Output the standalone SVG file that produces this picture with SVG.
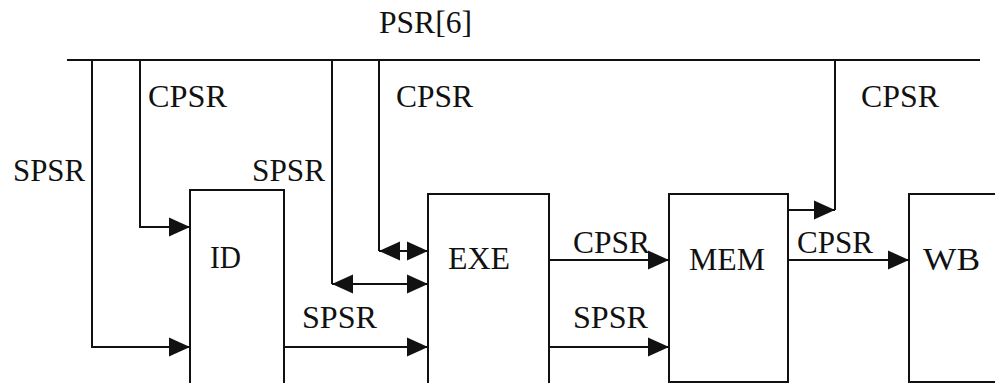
<svg xmlns="http://www.w3.org/2000/svg" width="995" height="383" viewBox="0 0 995 383">
<style>
  .ln { fill: none; stroke: #111; stroke-width: 2; }
  .box { fill: #fff; stroke: #111; stroke-width: 2; }
  .t { font-family: 'Times New Roman', 'Liberation Serif', 'DejaVu Serif', serif; font-size: 32px; fill: #111; }
  .arr { marker-end: url(#ah); }
  .dbl { marker-start: url(#ah); marker-end: url(#ah); }
</style>
<defs>
  <marker id="ah" markerUnits="userSpaceOnUse" markerWidth="22" markerHeight="20" viewBox="0 0 22 20" refX="21" refY="10" orient="auto-start-reverse">
    <path d="M0,0.5 L21,10 L0,19.5 Z" fill="#111"/>
  </marker>
</defs>
<rect width="995" height="383" fill="#fff"/>

<g id="bus">
  <path class="ln" d="M67,60 H980"/>
  <text class="t" x="379" y="33" textLength="93" lengthAdjust="spacingAndGlyphs">PSR[6]</text>
</g>

<g id="ID">
  <path class="box" d="M190,383 V190 H284 V383"/>
  <text class="t" x="210" y="268" textLength="31" lengthAdjust="spacingAndGlyphs">ID</text>
</g>
<g id="EXE">
  <path class="box" d="M428,383 V194 H549 V383"/>
  <text class="t" x="448" y="269" textLength="62" lengthAdjust="spacingAndGlyphs">EXE</text>
</g>
<g id="MEM">
  <rect class="box" x="669" y="194" width="119" height="188"/>
  <text class="t" x="689" y="270" textLength="76" lengthAdjust="spacingAndGlyphs">MEM</text>
</g>
<g id="WB">
  <path class="box" d="M996,194 H909 V382 H996"/>
  <text class="t" x="923" y="270" textLength="57" lengthAdjust="spacingAndGlyphs">WB</text>
</g>

<g id="connectors">
  <path class="ln arr" d="M92,60 V347 H190"/>
  <path class="ln arr" d="M140,60 V227 H190"/>
  <path class="ln" d="M332,60 V284"/>
  <path class="ln dbl" d="M332,284 H428"/>
  <path class="ln" d="M379,60 V251"/>
  <path class="ln dbl" d="M379,251 H428"/>
  <path class="ln arr" d="M284,347 H428"/>
  <path class="ln arr" d="M549,260 H669"/>
  <path class="ln arr" d="M549,347 H669"/>
  <path class="ln arr" d="M788,260 H909"/>
  <path class="ln" d="M835,60 V210"/>
  <path class="ln arr" d="M788,210 H835"/>

  <text class="t" x="13" y="181" textLength="72" lengthAdjust="spacingAndGlyphs">SPSR</text>
  <text class="t" x="148" y="107" textLength="79" lengthAdjust="spacingAndGlyphs">CPSR</text>
  <text class="t" x="252" y="181" textLength="73" lengthAdjust="spacingAndGlyphs">SPSR</text>
  <text class="t" x="396" y="107" textLength="77" lengthAdjust="spacingAndGlyphs">CPSR</text>
  <text class="t" x="861" y="107" textLength="78" lengthAdjust="spacingAndGlyphs">CPSR</text>
  <text class="t" x="302" y="328" textLength="75" lengthAdjust="spacingAndGlyphs">SPSR</text>
  <text class="t" x="573" y="253" textLength="77" lengthAdjust="spacingAndGlyphs">CPSR</text>
  <text class="t" x="573" y="328" textLength="75" lengthAdjust="spacingAndGlyphs">SPSR</text>
  <text class="t" x="797" y="253" textLength="76" lengthAdjust="spacingAndGlyphs">CPSR</text>
</g>
</svg>
